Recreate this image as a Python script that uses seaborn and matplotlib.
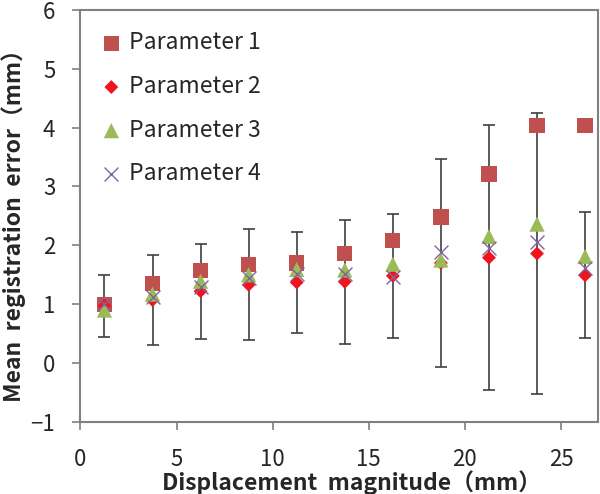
import numpy as np
import pandas as pd
import matplotlib
matplotlib.use("Agg")
import matplotlib.pyplot as plt
import seaborn as sns

# data
displacement = [1.25, 3.75, 6.25, 8.75, 11.25, 13.75, 16.25, 18.75, 21.25, 23.75, 26.25]
param1 = [1.00, 1.35, 1.57, 1.68, 1.70, 1.86, 2.08, 2.48, 3.21, 4.03, 4.04]
param2 = [0.97, 1.07, 1.22, 1.33, 1.37, 1.38, 1.48, 1.70, 1.79, 1.86, 1.49]
param3 = [0.90, 1.17, 1.39, 1.50, 1.59, 1.58, 1.68, 1.75, 2.15, 2.36, 1.81]
param4 = [1.00, 1.12, 1.29, 1.44, 1.52, 1.51, 1.47, 1.88, 1.95, 2.06, 1.61]
param2_sd = [0.52, 0.76, 0.81, 0.94, 0.86, 1.05, 1.05, 1.77, 2.25, 2.39, 1.07]

labels = ["Parameter 1", "Parameter 2", "Parameter 3", "Parameter 4"]

df = pd.DataFrame({
    "x": displacement * 4,
    "y": param1 + param2 + param3 + param4,
    "series": [l for l in labels for _ in displacement],
})

sns.set_style("white")
plt.rcParams["font.family"] = ["Noto Sans CJK JP", "DejaVu Sans"]

fig, ax = plt.subplots(figsize=(6, 4.94), dpi=100)
fig.subplots_adjust(left=0.134, right=0.996, bottom=0.146, top=0.980)

# error bars (Parameter 2)
ax.errorbar(displacement, param2, yerr=param2_sd, fmt="none", ecolor="#404040",
            elinewidth=1.2, capsize=4, capthick=1.2, zorder=1)

styles = {
    "Parameter 1": dict(marker="s", color="#C0504D", s=120),
    "Parameter 2": dict(marker="D", color="#F0141E", s=50),
    "Parameter 3": dict(marker="^", color="#9BBB59", s=120),
    "Parameter 4": dict(marker="x", color="#8064A2", s=100),
}
for i, lab in enumerate(labels):
    st = styles[lab]
    sub = df[df["series"] == lab]
    kw = dict(linewidth=1.0) if st["marker"] == "x" else dict(edgecolor="none")
    sns.scatterplot(data=sub, x="x", y="y", marker=st["marker"], color=st["color"],
                    s=st["s"], label=lab, ax=ax, zorder=2 + i, **kw)

ax.set_xlim(0, 26.9)
ax.set_ylim(-1, 6)
ax.set_xticks([0, 5, 10, 15, 20, 25])
ax.set_yticks(range(-1, 7))
ax.set_yticklabels(["\u22121", "0", "1", "2", "3", "4", "5", "6"])

for sp in ax.spines.values():
    sp.set_color("#808080")
    sp.set_linewidth(1.5)
ax.tick_params(axis="both", direction="out", length=6, width=1.2, color="#808080",
               labelsize=16, left=True, bottom=True)
ax.tick_params(axis="y", pad=12)
ax.tick_params(axis="x", pad=13)

ax.set_xlabel("Displacement  magnitude\uff08mm\uff09", fontsize=16.5, fontweight="bold")
ax.set_ylabel("Mean  registration  error\uff08mm\uff09", fontsize=16.5, fontweight="bold")
ax.xaxis.label.set_va("center")
ax.xaxis.set_label_coords(0.525, -0.148)
ax.yaxis.label.set_va("center")
ax.yaxis.set_label_coords(-0.130, 0.49)

leg = ax.legend(loc="upper left", frameon=False, fontsize=16.5, labelspacing=0.9,
                handletextpad=0.25, handlelength=1.0, borderaxespad=0.45,
                bbox_to_anchor=(0.0, 0.995))

fig.savefig("out.png", dpi=100)
